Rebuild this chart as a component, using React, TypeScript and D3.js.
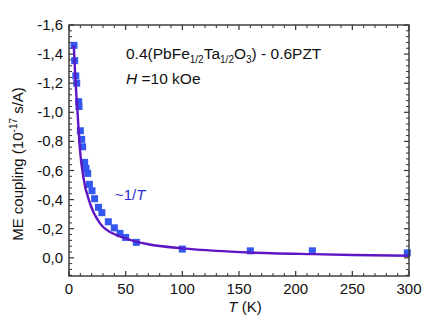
import React from "react";
import * as d3 from "d3";

// measured ME coupling points (blue squares)
const temps = [4.4, 5, 6, 6.8, 8.5, 8.8, 10, 11.2, 12, 13.8, 15, 16.5, 18, 20.3, 22.6, 26, 29, 34.7, 40, 45, 50, 59.4, 100, 160, 214.7, 298.5];
const coupling = [-1.46, -1.355, -1.25, -1.2, -1.073, -1.04, -0.873, -0.814, -0.763, -0.656, -0.615, -0.58, -0.505, -0.461, -0.406, -0.347, -0.31, -0.248, -0.206, -0.168, -0.14, -0.106, -0.06, -0.048, -0.048, -0.034];

// ~1/T curve
const fitT = [4.2, 5.5, 7.4, 9.7, 12.6, 18.5, 27.4, 42, 50, 56.7, 70, 100, 130, 160, 215, 250, 300];
const fitV = [-1.46, -1.25, -1.016, -0.74, -0.557, -0.374, -0.237, -0.156, -0.133, -0.117, -0.093, -0.065, -0.048, -0.037, -0.025, -0.019, -0.014];

const xTicks = [0, 50, 100, 150, 200, 250, 300];
const yTicks = [-1.6, -1.4, -1.2, -1.0, -0.8, -0.6, -0.4, -0.2, 0.0];

const W = 433, H = 325;
const margin = { top: 25, right: 24, bottom: 49, left: 69 };
const font = "'Liberation Sans', Arial, sans-serif";

export default function App() {
  const x = d3.scaleLinear().domain([0, 300]).range([margin.left, W - margin.right]);
  const y = d3.scaleLinear().domain([-1.6, 0.125]).range([margin.top, H - margin.bottom]);

  const x0 = margin.left, x1 = W - margin.right, y0 = margin.top, y1 = H - margin.bottom;

  const xMinor = d3.range(0, 301, 10).filter((v) => v % 50 !== 0);
  const yMinor = d3.range(-1.6, 0.125, 0.04).filter((v) => Math.abs(Math.round(v * 5) - v * 5) > 0.01);

  const line = d3
    .line<number>()
    .x((d, i) => x(fitT[i]))
    .y((d) => y(d))
    .curve(d3.curveMonotoneX);

  const fmt = (v: number) => d3.format(".1f")(v).replace("−", "-").replace(".", ",");
  const axisCol = "#333";
  const sq = 7;

  return (
    <svg width={W} height={H} style={{ position: "absolute", left: 0, top: 0, background: "#fff" }} fontFamily={font}>
      {/* ticks, inward on all four sides */}
      {xTicks.map((t) => (
        <g key={"xt" + t} stroke={axisCol} strokeWidth={1.2}>
          <line x1={x(t)} x2={x(t)} y1={y1} y2={y1 - 5} />
          <line x1={x(t)} x2={x(t)} y1={y0} y2={y0 + 5} />
        </g>
      ))}
      {xMinor.map((t) => (
        <g key={"xm" + t} stroke={axisCol} strokeWidth={1}>
          <line x1={x(t)} x2={x(t)} y1={y1} y2={y1 - 3} />
          <line x1={x(t)} x2={x(t)} y1={y0} y2={y0 + 3} />
        </g>
      ))}
      {yTicks.map((t) => (
        <g key={"yt" + t} stroke={axisCol} strokeWidth={1.2}>
          <line x1={x0} x2={x0 + 5} y1={y(t)} y2={y(t)} />
          <line x1={x1} x2={x1 - 5} y1={y(t)} y2={y(t)} />
        </g>
      ))}
      {yMinor.map((t, i) => (
        <g key={"ym" + i} stroke={axisCol} strokeWidth={1}>
          <line x1={x0} x2={x0 + 3} y1={y(t)} y2={y(t)} />
          <line x1={x1} x2={x1 - 3} y1={y(t)} y2={y(t)} />
        </g>
      ))}

      {/* data */}
      {temps.map((t, i) => (
        <rect key={"p" + i} x={x(t) - sq / 2} y={y(coupling[i]) - sq / 2} width={sq} height={sq} fill="#3358f0" />
      ))}
      <path d={line(fitV) || ""} fill="none" stroke="#5e16c4" strokeWidth={2.4} />

      {/* frame */}
      <rect x={x0} y={y0} width={x1 - x0} height={y1 - y0} fill="none" stroke={axisCol} strokeWidth={1.4} />

      {/* tick labels */}
      {xTicks.map((t) => (
        <text key={"xl" + t} x={x(t)} y={y1 + 18} textAnchor="middle" fontSize={15} fill="#111">
          {t}
        </text>
      ))}
      {yTicks.map((t) => (
        <text key={"yl" + t} x={x0 - 6} y={y(t) + 5} textAnchor="end" fontSize={15} fill="#111">
          {fmt(t)}
        </text>
      ))}

      {/* axis titles */}
      <text x={(x0 + x1) / 2 + 6} y={312} textAnchor="middle" fontSize={15} fill="#111">
        <tspan fontStyle="italic">T</tspan> (K)
      </text>
      <text transform="translate(23,164) rotate(-90)" textAnchor="middle" fontSize={15} fill="#111">
        ME coupling (10
        <tspan fontSize={10} dy={-6}>-17</tspan>
        <tspan dy={6}> s/A)</tspan>
      </text>

      {/* annotations */}
      <text x={126} y={59} fontSize={15.5} fill="#111">
        0.4(PbFe<tspan fontSize={10} dy={4}>1/2</tspan>
        <tspan dy={-4}>Ta</tspan>
        <tspan fontSize={10} dy={4}>1/2</tspan>
        <tspan dy={-4}>O</tspan>
        <tspan fontSize={10} dy={4}>3</tspan>
        <tspan dy={-4}>) - 0.6PZT</tspan>
      </text>
      <text x={126} y={84} fontSize={15.5} fill="#111">
        <tspan fontStyle="italic">H</tspan> =10 kOe
      </text>
      <text x={115} y={200} fontSize={15} fill="#2b2bd0">
        ~1/<tspan fontStyle="italic">T</tspan>
      </text>
    </svg>
  );
}
